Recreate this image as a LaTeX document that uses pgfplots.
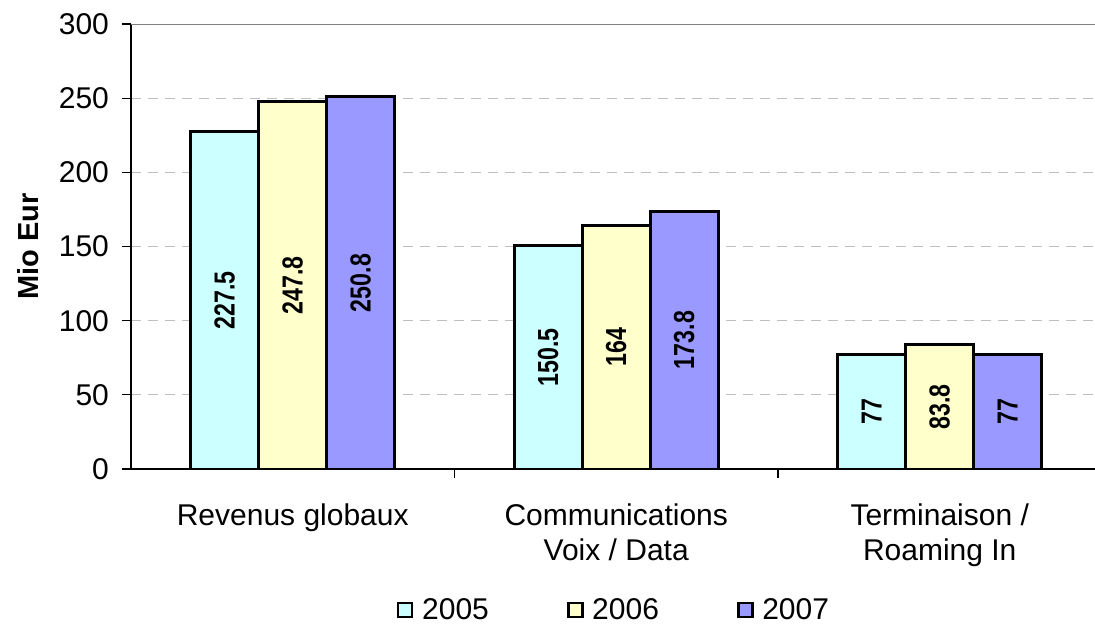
\documentclass[border=0pt]{standalone}
\usepackage{pgfplots}
\pgfplotsset{compat=1.18}
\usepackage{fontspec}
\setmainfont{Liberation Sans}
\definecolor{c2005}{HTML}{CCFFFF}
\definecolor{c2006}{HTML}{FFFFCC}
\definecolor{c2007}{HTML}{9999FF}
\begin{document}
\begin{tikzpicture}
\path[use as bounding box] (-65.5pt,-82.5pt) rectangle (482pt,234.5pt);
\begin{axis}[
    at={(0,0)}, anchor=south west,
    scale only axis, width=482pt, height=222.5pt,
    ybar=0pt, bar width=34pt,
    xmin=-0.5, xmax=2.48, ymin=0, ymax=300,
    axis x line*=bottom, axis y line*=left,
    axis line style={-, black, line width=0.8pt},
    ytick={0,50,...,300},
    ymajorgrids, major grid style={dash pattern=on 5pt off 3.5pt, black!25, line width=0.5pt},
    tick align=outside, major tick length=4.5pt,
    tick style={black, line width=0.6pt},
    xtick={0.5,1.5}, xticklabels={},
    extra x ticks={0,1,2},
    extra x tick labels={Revenus globaux, Communications\\Voix / Data, Terminaison /\\Roaming In},
    extra x tick style={major tick length=0pt},
    xticklabel style={align=center, font=\fontsize{15}{17.5}\selectfont, yshift=-14pt},
    yticklabel style={font=\fontsize{15}{17}\selectfont, xshift=-3pt},
    /pgf/number format/assume math mode=true,
    ylabel={\textbf{Mio Eur}},
    ylabel style={at={(axis description cs:-0.107,0.5)}, anchor=center, font=\fontsize{14.5}{16}\selectfont},
    nodes near coords={\scalebox{0.8}[1]{\pgfmathprintnumber\pgfplotspointmeta}},
    visualization depends on={rawy \as \rawy},
    every node near coord/.append style={shift={(axis direction cs:0,-\rawy/2)},
        rotate=90, anchor=center,
        font=\bfseries\fontsize{14.5}{16}\selectfont},
    legend style={at={(0.502,-0.317)}, anchor=center, draw=none, legend columns=3,
        font=\fontsize{15}{16}\selectfont,
        /tikz/every even column/.append style={column sep=37pt}},
    legend image code/.code={\draw[#1, line width=1.3pt] (0pt,-3.5pt) rectangle (7pt,3.5pt);
        \path[draw=none, fill=none] (10pt,0pt) circle (0pt);},
]
\addplot[fill=c2005, draw=black, line width=1.5pt] coordinates {(0,227.5) (1,150.5) (2,77)};
\addplot[fill=c2006, draw=black, line width=1.5pt] coordinates {(0,247.8) (1,164) (2,83.8)};
\addplot[fill=c2007, draw=black, line width=1.5pt] coordinates {(0,250.8) (1,173.8) (2,77)};
\legend{2005, 2006, 2007}
\draw[black!50, line width=1pt] (rel axis cs:0,1) -- (rel axis cs:1,1);
\end{axis}
\end{tikzpicture}
\end{document}
